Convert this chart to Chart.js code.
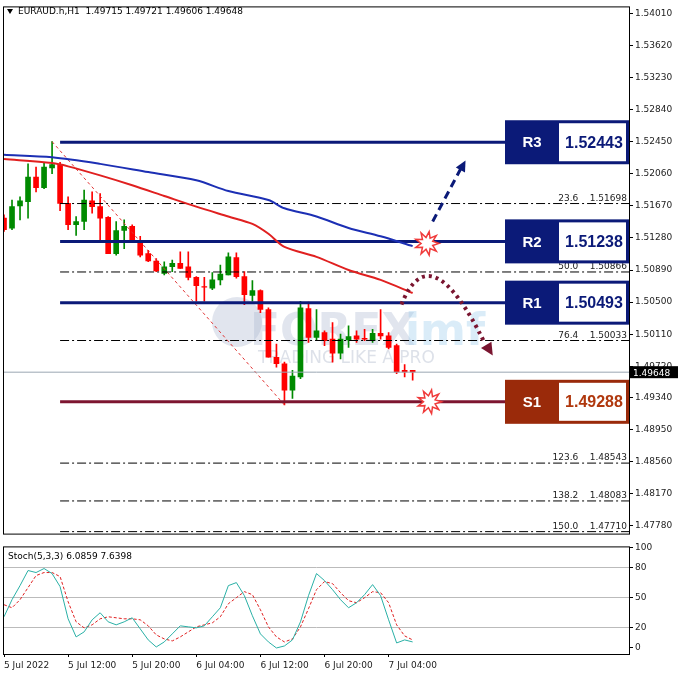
<!DOCTYPE html>
<html>
<head>
<meta charset="utf-8">
<script src="https://cdn.jsdelivr.net/npm/chart.js@4.4.0/dist/chart.umd.min.js"></script>
<style>
  body { margin: 0; background: #fff; width: 678px; height: 678px; overflow: hidden; }
  #main { position: absolute; left: 0; top: 0; }
  #stoch { position: absolute; left: 0; top: 540px; }
</style>
</head>
<body>
<canvas id="main" width="678" height="541"></canvas>
<canvas id="stoch" width="678" height="138"></canvas>
<script>
// OHLC, one entry per H1 candle (index 0 = 5 Jul 2022 00:00)
const opens  = [1.5152,1.5140,1.5167,1.5172,1.5202,1.5189,1.5213,1.5217,1.5170,1.5144,1.5148,1.5173,1.5166,1.5153,1.5109,1.5137,1.5142,1.5124,1.5109,1.5100,1.5085,1.5093,1.5097,1.5093,1.5080,1.5069,1.5067,1.5077,1.5083,1.5104,1.5081,1.5058,1.5064,1.5041,1.4983,1.4975,1.4943,1.4959,1.5042,1.5007,1.5013,1.5005,1.4988,1.5004,1.5009,1.5006,1.5003,1.5012,1.5009,1.4997,1.4967,1.4967];
const highs  = [1.5156,1.5174,1.5178,1.5218,1.5214,1.5220,1.5245,1.5220,1.5178,1.5154,1.5186,1.5184,1.5182,1.5154,1.5148,1.5150,1.5144,1.5130,1.5113,1.5103,1.5099,1.5101,1.5111,1.5111,1.5081,1.5080,1.5086,1.5095,1.5110,1.5110,1.5087,1.5076,1.5065,1.5043,1.4999,1.4977,1.4967,1.5051,1.5050,1.5041,1.5015,1.5025,1.5011,1.5021,1.5015,1.5017,1.5017,1.5041,1.5013,1.4999,1.4974,1.4967];
const lows   = [1.5136,1.5138,1.5150,1.5152,1.5184,1.5188,1.5206,1.5161,1.5138,1.5131,1.5138,1.5158,1.5125,1.5109,1.5107,1.5115,1.5123,1.5105,1.5099,1.5087,1.5083,1.5087,1.5091,1.5077,1.5051,1.5051,1.5065,1.5071,1.5083,1.5079,1.5047,1.5051,1.5037,1.4983,1.4971,1.4925,1.4933,1.4957,1.5001,1.5003,1.4997,1.4977,1.4981,1.4995,1.5001,1.5003,1.5001,1.5005,1.4993,1.4963,1.4959,1.4955];
const closes = [1.5138,1.5166,1.5173,1.5202,1.5189,1.5214,1.5217,1.5170,1.5144,1.5148,1.5174,1.5166,1.5152,1.5109,1.5137,1.5142,1.5124,1.5107,1.5100,1.5088,1.5093,1.5097,1.5091,1.5080,1.5070,1.5068,1.5077,1.5084,1.5105,1.5081,1.5059,1.5064,1.5041,1.4983,1.4975,1.4943,1.4960,1.5043,1.5007,1.5015,1.5003,1.4988,1.5005,1.5008,1.5005,1.5005,1.5012,1.5009,1.4995,1.4965,1.4965,1.4965];

// moving averages, sampled at candle indices
const maIdx  = [0, 6, 12, 18, 24, 28, 33, 35, 39, 43, 47, 51];
const maBlue = [1.5229,1.5226,1.5218,1.5208,1.5198,1.5185,1.5174,1.5164,1.5154,1.5140,1.5130,1.5118];
const maRedIdx = [0, 6, 8, 12, 16, 20, 24, 28, 31, 33, 35, 39, 43, 47, 51];
const maRed  = [1.5224,1.5219,1.5215,1.5204,1.5192,1.5179,1.5166,1.5154,1.5145,1.5133,1.5117,1.5105,1.5089,1.5077,1.5061];

// stochastic (5,3,3)
const stochK = [31,48,62,77,75,79,74,61,29,11,16,28,35,26,23,26,30,19,8,1,6,14,22,21,20,22,31,40,62,65,52,32,14,6,0,2,8,26,52,74,67,58,48,40,45,53,63,52,28,5,8,6];
const stochD = [43,40,48,60,72,75,75,71,46,26,20,23,29,31,30,29,29,28,22,13,9,7,11,16,21,23,25,31,44,50,56,53,38,21,11,6,9,21,39,58,66,64,55,47,45,50,56,55,45,23,12,8];

// levels
const levelNames  = ["R3", "R2", "R1", "S1"];
const levelPrices = [1.52443, 1.51238, 1.50493, 1.49288];
const fibNames  = ["23.6", "50.0", "76.4", "123.6", "138.2", "150.0"];
const fibPrices = [1.51698, 1.50866, 1.50033, 1.48543, 1.48083, 1.47710];
const priceTicks = [1.54010,1.53620,1.53230,1.52840,1.52450,1.52060,1.51670,1.51280,1.50890,1.50500,1.50110,1.49720,1.49340,1.48950,1.48560,1.48170,1.47780];
const stochTicks = [0, 20, 50, 80, 100];
const timeLabels = ["5 Jul 2022", "5 Jul 12:00", "5 Jul 20:00", "6 Jul 04:00", "6 Jul 12:00", "6 Jul 20:00", "7 Jul 04:00"];
const lastPrice = 1.49648;

const NAVY = "#0b1a78";
const MAROON = "#7d1530";
const X_MAX = 78;
const levelStart = 7;

const idx = opens.map((_, i) => i);
const candleColors = idx.map(i => closes[i] >= opens[i] ? "#008a00" : "#ff0000");

const datasets = [];
datasets.push({
    type: "line", data: maIdx.map((x, i) => ({x: x, y: maBlue[i]})),
    borderColor: "#1c2fb4", borderWidth: 2, pointRadius: 0, tension: 0.3
});
datasets.push({
    type: "line", data: maRedIdx.map((x, i) => ({x: x, y: maRed[i]})),
    borderColor: "#e02020", borderWidth: 2, pointRadius: 0, tension: 0.3
});
fibPrices.forEach(p => datasets.push({
    type: "line", data: [{x: levelStart, y: p}, {x: X_MAX, y: p}],
    borderColor: "#000", borderWidth: 1, borderDash: [9, 3, 2, 3], pointRadius: 0
}));
datasets.push({
    type: "line", data: [{x: 0, y: lastPrice}, {x: X_MAX, y: lastPrice}],
    borderColor: "#9aa6b2", borderWidth: 1, pointRadius: 0
});
levelPrices.forEach((p, i) => datasets.push({
    type: "line", data: [{x: levelStart, y: p}, {x: X_MAX, y: p}],
    borderColor: levelNames[i] === "S1" ? MAROON : NAVY, borderWidth: 3, pointRadius: 0
}));
// dashed swing line from high to low
datasets.push({
    type: "line", data: [{x: 6, y: highs[6]}, {x: 35, y: lows[35]}],
    borderColor: "#e03030", borderWidth: 1, borderDash: [3, 3], pointRadius: 0
});
datasets.push({
    type: "bar", data: idx.map(i => ({x: i, y: [lows[i], highs[i]]})),
    backgroundColor: candleColors, barThickness: 1, grouped: false
});
datasets.push({
    type: "bar", data: idx.map(i => ({x: i, y: [opens[i], Math.abs(closes[i] - opens[i]) < 0.00004 ? opens[i] + 0.00004 : closes[i]]})),
    backgroundColor: candleColors, barThickness: 5, grouped: false
});

function star(ctx, cx, cy, r1, r2, n) {
    ctx.beginPath();
    for (let k = 0; k < n * 2; k++) {
        const r = k % 2 ? r2 : r1;
        const a = Math.PI * k / n;
        ctx.lineTo(cx + r * Math.cos(a), cy + r * Math.sin(a));
    }
    ctx.closePath();
    ctx.fillStyle = "#fff";
    ctx.fill();
    ctx.strokeStyle = "#f03a3a";
    ctx.lineWidth = 1.5;
    ctx.stroke();
}

function arrowHead(ctx, x1, y1, x2, y2, size, color) {
    const a = Math.atan2(y2 - y1, x2 - x1);
    ctx.beginPath();
    ctx.moveTo(x2, y2);
    ctx.lineTo(x2 - size * Math.cos(a - 0.45), y2 - size * Math.sin(a - 0.45));
    ctx.lineTo(x2 - size * Math.cos(a + 0.45), y2 - size * Math.sin(a + 0.45));
    ctx.closePath();
    ctx.fillStyle = color;
    ctx.fill();
}

const watermark = {
    id: "watermark",
    beforeDatasetsDraw(chart) {
        const ctx = chart.ctx;
        ctx.save();
        ctx.fillStyle = "rgba(170,180,205,0.35)";
        ctx.beginPath();
        ctx.arc(237, 322, 25, 0, Math.PI * 2);
        ctx.fill();
        ctx.font = "bold 44px 'DejaVu Sans'";
        ctx.fillText("FOREX", 250, 345);
        ctx.fillStyle = "rgba(150,200,235,0.35)";
        ctx.fillText("imf", 405, 345);
        ctx.fillStyle = "rgba(170,180,200,0.4)";
        ctx.font = "17px 'DejaVu Sans'";
        ctx.fillText("TRADING LIKE A PRO", 258, 363);
        ctx.restore();
    }
};

const overlay = {
    id: "overlay",
    afterDatasetsDraw(chart) {
        const ctx = chart.ctx, xs = chart.scales.x, ys = chart.scales.y, a = chart.chartArea;
        const X = v => xs.getPixelForValue(v), Y = v => ys.getPixelForValue(v);
        ctx.save();
        // fib labels
        ctx.fillStyle = "#222";
        ctx.font = "9px 'DejaVu Sans'";
        ctx.textAlign = "right";
        fibPrices.forEach((p, i) => {
            ctx.fillText(fibNames[i] + "    " + p.toFixed(5), a.right - 2, Y(p) - 3);
        });
        // blue dashed arrow
        ctx.strokeStyle = NAVY;
        ctx.lineWidth = 3;
        ctx.setLineDash([8, 5]);
        ctx.beginPath();
        ctx.moveTo(X(53.5), Y(1.5148));
        ctx.lineTo(X(57.0), Y(1.5212));
        ctx.stroke();
        ctx.setLineDash([]);
        arrowHead(ctx, X(53.5), Y(1.5148), X(57.6), Y(1.5222), 12, NAVY);
        // maroon dotted arc
        ctx.strokeStyle = "#7a1530";
        ctx.lineWidth = 4;
        ctx.setLineDash([3, 4]);
        ctx.beginPath();
        ctx.moveTo(X(49.6), Y(1.5047));
        ctx.quadraticCurveTo(X(53.2), Y(1.5135), X(60.0), Y(1.5000));
        ctx.stroke();
        ctx.setLineDash([]);
        arrowHead(ctx, X(58.5), Y(1.5025), X(61.0), Y(1.4985), 14, "#7a1530");
        // bursts
        star(ctx, X(52.8), Y(levelPrices[1]) + 2, 12, 6, 9);
        star(ctx, X(53.1), Y(levelPrices[3]), 12, 6, 9);
        // level boxes
        levelPrices.forEach((p, i) => {
            const y = Y(p), isS = levelNames[i] === "S1";
            const dark = isS ? "#9a2a0a" : NAVY;
            const top = y - 22, h = 44, x0 = 505, xm = 559, x1 = a.right;
            ctx.fillStyle = dark;
            ctx.fillRect(x0, top, x1 - x0, h);
            ctx.fillStyle = "#fff";
            ctx.fillRect(xm, top + 3, x1 - xm - 3, h - 6);
            ctx.textAlign = "center";
            ctx.textBaseline = "middle";
            ctx.font = "bold 15px 'Liberation Sans'";
            ctx.fillText(levelNames[i], (x0 + xm) / 2, y + 1);
            ctx.fillStyle = isS ? "#b0380e" : NAVY;
            ctx.font = "bold 16px 'Liberation Sans'";
            ctx.fillText(p.toFixed(5), (xm + x1) / 2, y + 1);
        });
        // current price tag
        ctx.fillStyle = "#000";
        ctx.fillRect(a.right + 1, Y(lastPrice) - 6, 48, 12);
        ctx.fillStyle = "#fff";
        ctx.font = "9px 'DejaVu Sans'";
        ctx.textAlign = "left";
        ctx.fillText(lastPrice.toFixed(5), a.right + 4, Y(lastPrice) + 1);
        // frame and title
        ctx.strokeStyle = "#000";
        ctx.lineWidth = 1;
        ctx.strokeRect(a.left - 0.5, a.top - 0.5, a.right - a.left + 1, a.bottom - a.top + 1);
        ctx.fillStyle = "#000";
        ctx.beginPath();
        ctx.moveTo(7, 9); ctx.lineTo(13, 9); ctx.lineTo(10, 14); ctx.closePath();
        ctx.fill();
        ctx.font = "9px 'DejaVu Sans'";
        ctx.textBaseline = "middle";
        ctx.fillText("EURAUD.h,H1  1.49715 1.49721 1.49606 1.49648", 18, 12);
        ctx.restore();
    }
};

new Chart(document.getElementById("main"), {
    type: "bar",
    data: {datasets: datasets},
    options: {
        responsive: false, animation: false,
        layout: {padding: {top: 4, bottom: 1, left: 4}},
        plugins: {legend: {display: false}, tooltip: {enabled: false}},
        scales: {
            x: {type: "linear", min: 0, max: X_MAX, display: false, offset: false},
            y: {
                position: "right", min: 1.47686, max: 1.54082,
                afterBuildTicks: s => { s.ticks = priceTicks.map(v => ({value: v})); },
                afterFit: s => { s.width = 49; },
                grid: {drawOnChartArea: false, tickLength: 4, color: "#000"},
                border: {color: "#000"},
                ticks: {color: "#222", font: {family: "DejaVu Sans", size: 9}, padding: 2, callback: v => v.toFixed(5)}
            }
        }
    },
    plugins: [watermark, overlay]
});

const stochFrame = {
    id: "stochFrame",
    afterDatasetsDraw(chart) {
        const ctx = chart.ctx, a = chart.chartArea;
        ctx.save();
        ctx.strokeStyle = "#000";
        ctx.strokeRect(a.left - 0.5, a.top - 0.5, a.right - a.left + 1, a.bottom - a.top + 1);
        ctx.fillStyle = "#000";
        ctx.font = "9px 'DejaVu Sans'";
        ctx.fillText("Stoch(5,3,3) 6.0859 7.6398", 8, a.top + 12);
        ctx.restore();
    }
};

new Chart(document.getElementById("stoch"), {
    type: "line",
    data: {
        datasets: [
            {data: idx.map(i => ({x: i, y: stochK[i]})), borderColor: "#2ab0a6", borderWidth: 1, pointRadius: 0},
            {data: idx.map(i => ({x: i, y: stochD[i]})), borderColor: "#e02020", borderWidth: 1, borderDash: [3, 2], pointRadius: 0}
        ]
    },
    options: {
        responsive: false, animation: false,
        layout: {padding: {top: 5, left: 4}},
        plugins: {legend: {display: false}, tooltip: {enabled: false}},
        scales: {
            x: {
                type: "linear", min: 0, max: X_MAX,
                afterBuildTicks: s => { s.ticks = timeLabels.map((_, i) => ({value: i * 8})); },
                afterFit: s => { s.height = 24; },
                grid: {drawOnChartArea: false, tickLength: 3, color: "#000"},
                border: {color: "#000"},
                ticks: {align: "start", maxRotation: 0, autoSkip: false, color: "#222", font: {family: "DejaVu Sans", size: 9},
                        callback: v => timeLabels[Math.round(v / 8)]}
            },
            y: {
                position: "right", min: -6, max: 100,
                afterBuildTicks: s => { s.ticks = stochTicks.map(v => ({value: v})); },
                afterFit: s => { s.width = 49; },
                grid: {
                    drawTicks: true, tickLength: 4,
                    color: c => (c.tick && [20, 50, 80].includes(c.tick.value)) ? "#bbb" : "rgba(0,0,0,0)",
                    tickColor: "#000"
                },
                border: {color: "#000", dash: []},
                ticks: {color: "#222", font: {family: "DejaVu Sans", size: 9}, padding: 2}
            }
        }
    },
    plugins: [stochFrame]
});
</script>
</body>
</html>
